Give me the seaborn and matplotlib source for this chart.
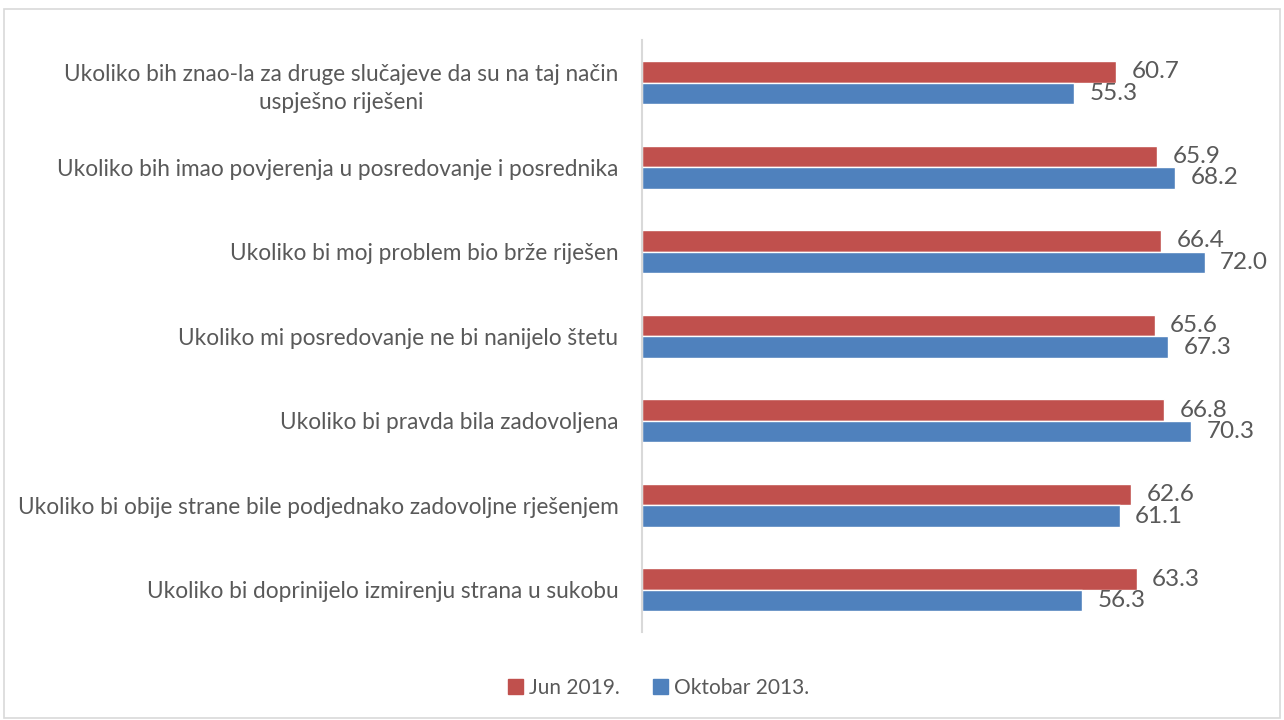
import matplotlib
matplotlib.use("Agg")
import matplotlib.pyplot as plt
import matplotlib.patches as mpatches
import seaborn as sns
import pandas as pd

categories = [
    "Ukoliko bih znao-la za druge slučajeve da su na taj način\nuspješno riješeni",
    "Ukoliko bih imao povjerenja u posredovanje i posrednika",
    "Ukoliko bi moj problem bio brže riješen",
    "Ukoliko mi posredovanje ne bi nanijelo štetu",
    "Ukoliko bi pravda bila zadovoljena",
    "Ukoliko bi obije strane bile podjednako zadovoljne rješenjem",
    "Ukoliko bi doprinijelo izmirenju strana u sukobu",
]
series_names = ["Jun 2019.", "Oktobar 2013."]
jun_2019 = [60.7, 65.9, 66.4, 65.6, 66.8, 62.6, 63.3]
okt_2013 = [55.3, 68.2, 72.0, 67.3, 70.3, 61.1, 56.3]
colors = ["#C0504D", "#4F81BD"]

df = pd.DataFrame({
    "cat": categories * 2,
    "series": [series_names[0]] * len(categories) + [series_names[1]] * len(categories),
    "value": jun_2019 + okt_2013,
})

sns.set_theme(style="white")
plt.rcParams["font.family"] = ["Lato", "DejaVu Sans"]
text_color = "#595959"

fig = plt.figure(figsize=(12.84, 7.2), dpi=100)
ax = fig.add_axes([0.5, 0.122, 0.487, 0.822])

sns.barplot(data=df, y="cat", x="value", hue="series", order=categories,
            hue_order=series_names, palette=colors, orient="h", width=0.51,
            saturation=1, ax=ax, legend=False)

ax.set_xlim(0, 80)
ax.set_ylim(6.5, -0.5)
ax.set_xlabel("")
ax.set_ylabel("")
ax.set_xticks([])
for s in ["top", "right", "bottom"]:
    ax.spines[s].set_visible(False)
ax.spines["left"].set_color("#D9D9D9")
ax.spines["left"].set_linewidth(1.5)
ax.tick_params(axis="y", length=0, pad=17, labelsize=16.3, labelcolor=text_color)
for lab in ax.get_yticklabels():
    lab.set_multialignment("center")
    lab.set_linespacing(1.45)

for cont in ax.containers:
    ax.bar_label(cont, fmt="%.1f", padding=11, fontsize=17.5, color=text_color)

handles = [mpatches.Patch(color=c, label=n) for c, n in zip(colors, series_names)]
fig.legend(handles=handles, loc="center", bbox_to_anchor=(0.513, 0.045), ncol=2,
           frameon=False, fontsize=15, labelcolor=text_color,
           handlelength=0.7, handleheight=0.7, handletextpad=0.3, columnspacing=1.6)

border = mpatches.Rectangle((0.003, 0.003), 0.994, 0.984, transform=fig.transFigure,
                            fill=False, edgecolor="#D9D9D9", linewidth=1.2)
fig.patches.append(border)

fig.savefig("out.png", dpi=100)
